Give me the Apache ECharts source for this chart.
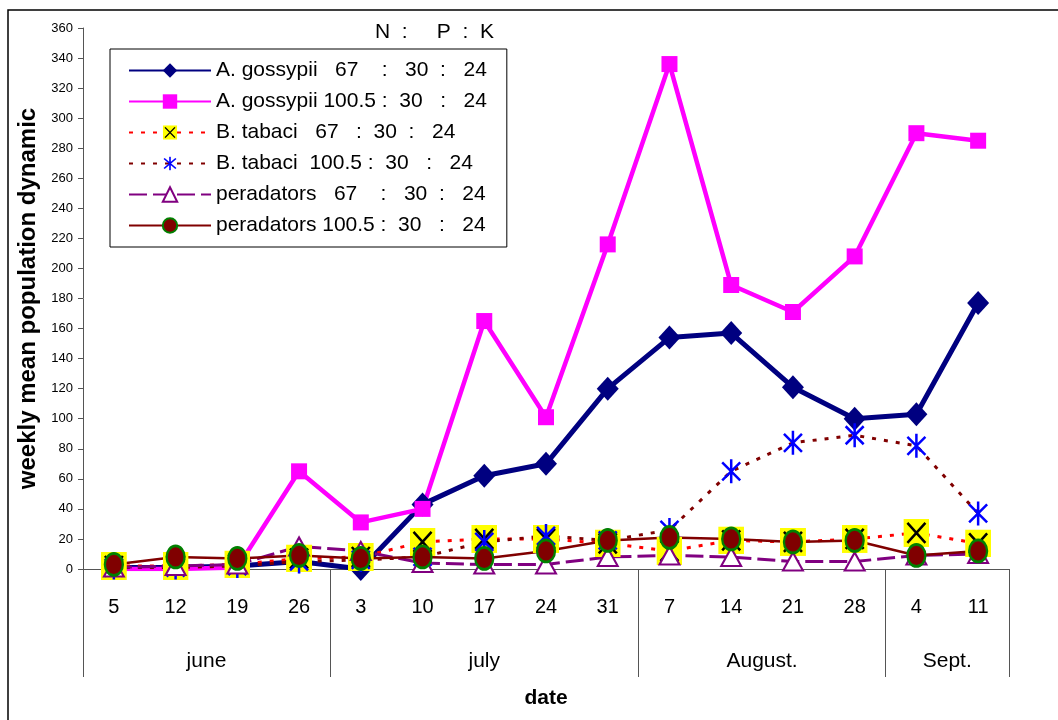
<!DOCTYPE html>
<html>
<head>
<meta charset="utf-8">
<script src="https://cdn.jsdelivr.net/npm/echarts@6/dist/echarts.min.js"></script>
<style>
  html, body { margin: 0; padding: 0; background: #fff; }
  #chart { width: 1058px; height: 720px; }
</style>
</head>
<body>
<div id="chart"></div>
<script>
// 横轴：周次（日期）与月份分组
const days = ['5', '12', '19', '26', '3', '10', '17', '24', '31', '7', '14', '21', '28', '4', '11']
const months = ['june', 'july', 'August.', 'Sept.']
const monthSpans = [4, 5, 4, 2] // 每个月包含的周数

// 纵轴刻度
const yMin = 0
const yMax = 360
const yStep = 20

// 各系列数值（每周平均种群数量）
const aGossypii67 = [1, 1, 2, 5, 0, 43, 62, 70, 120, 154, 157, 121, 100, 103, 177]
const aGossypii100 = [0, 0, 1, 65, 31, 40, 165, 101, 216, 336, 189, 171, 208, 290, 285]
const bTabaci67 = [2, 2, 3, 7, 8, 18, 20, 20, 17, 12, 19, 18, 20, 24, 17]
const bTabaci100 = [1, 1, 2, 5, 6, 8, 18, 22, 19, 26, 65, 84, 89, 82, 37]
const peradators67 = [1, 2, 3, 15, 12, 4, 3, 3, 8, 9, 8, 5, 5, 9, 10]
const peradators100 = [3, 8, 7, 9, 7, 8, 7, 12, 19, 21, 20, 18, 19, 9, 12]

// 图例名称（N : P : K）
const names = [
  'A. gossypii   67    :   30  :   24',
  'A. gossypii 100.5 :  30   :   24',
  'B. tabaci   67   :  30  :   24',
  'B. tabaci  100.5 :  30   :   24',
  'peradators   67    :   30  :   24',
  'peradators 100.5 :  30   :   24',
]

// 月份分隔线位置和标签中心
const monthBounds = [0]
const monthCenters = []
monthSpans.forEach((n) => {
  const start = monthBounds[monthBounds.length - 1]
  monthCenters.push(start + n / 2)
  monthBounds.push(start + n)
})

// 自定义标记：黄底黑叉、蓝色星号
const svg = (s) => 'image://data:image/svg+xml;charset=utf-8,' + encodeURIComponent(s)
const crossSymbol = svg(
  "<svg xmlns='http://www.w3.org/2000/svg' width='26' height='28' viewBox='0 0 26 28'>" +
    "<rect width='26' height='28' fill='#ffff00'/>" +
    "<path d='M4 4L22 24M22 4L4 24' stroke='#000' stroke-width='2.5' fill='none'/></svg>"
)
const starSymbol = svg(
  "<svg xmlns='http://www.w3.org/2000/svg' width='22' height='26' viewBox='0 0 22 26'>" +
    "<path d='M11 1V25M2 4L20 22M20 4L2 22' stroke='#0000ff' stroke-width='2.5' fill='none'/></svg>"
)

const FONT = 'Liberation Sans, Arial, sans-serif'
const AXIS_COLOR = '#555'

const chart = echarts.init(document.getElementById('chart'))

chart.setOption({
  backgroundColor: '#fff',
  animation: false,
  title: {
    text: 'N  :     P  :  K',
    left: 370,
    top: 17,
    textStyle: { fontFamily: FONT, fontSize: 21, fontWeight: 'normal', color: '#000' },
  },
  graphic: [
    {
      // 外框（只露出左边和上边）
      type: 'rect',
      shape: { x: 8, y: 10, width: 1080, height: 740 },
      style: { fill: 'none', stroke: '#000', lineWidth: 1.5 },
      silent: true,
    },
  ],
  legend: {
    orient: 'vertical',
    left: 110,
    top: 49,
    padding: [11, 20, 11, 18],
    itemWidth: 82,
    itemHeight: 18,
    itemGap: 10,
    borderColor: '#000',
    borderWidth: 1,
    backgroundColor: '#fff',
    textStyle: { fontFamily: FONT, fontSize: 21, color: '#000', lineHeight: 21 },
    data: names,
  },
  grid: { left: 83, right: 49, top: 28, bottom: 151 },
  xAxis: [
    {
      type: 'category',
      data: days,
      boundaryGap: true,
      axisLine: { lineStyle: { color: AXIS_COLOR, width: 1 } },
      axisTick: { length: 54, lineStyle: { color: AXIS_COLOR } },
      axisLabel: { margin: 28, fontFamily: FONT, fontSize: 20, color: '#000', interval: 0 },
      splitLine: { show: false },
    },
    {
      type: 'value',
      min: 0,
      max: days.length,
      position: 'bottom',
      axisLine: { show: false },
      axisTick: { customValues: monthBounds, length: 108, lineStyle: { color: AXIS_COLOR } },
      axisLabel: {
        customValues: monthCenters,
        margin: 82,
        fontFamily: FONT,
        fontSize: 21,
        color: '#000',
        formatter: (v) => months[monthCenters.indexOf(v)] || '',
      },
      splitLine: { show: false },
      name: 'date',
      nameLocation: 'middle',
      nameGap: 119,
      nameTextStyle: { fontFamily: FONT, fontSize: 21, fontWeight: 'bold', color: '#000' },
    },
  ],
  yAxis: {
    type: 'value',
    min: yMin,
    max: yMax,
    interval: yStep,
    axisLine: { show: true, lineStyle: { color: AXIS_COLOR, width: 1 } },
    axisTick: { show: true, length: 5, lineStyle: { color: AXIS_COLOR } },
    axisLabel: { margin: 10, fontFamily: FONT, fontSize: 13, color: '#000' },
    splitLine: { show: false },
    name: 'weekly mean population dynamic',
    nameLocation: 'middle',
    nameGap: 40,
    nameTextStyle: { fontFamily: FONT, fontSize: 24, fontWeight: 'bold', color: '#000' },
  },
  series: [
    {
      name: names[0],
      type: 'line',
      data: aGossypii67,
      symbol: 'diamond',
      symbolSize: [22, 24],
      lineStyle: { color: '#000080', width: 5 },
      itemStyle: { color: '#000080' },
    },
    {
      name: names[1],
      type: 'line',
      data: aGossypii100,
      symbol: 'rect',
      symbolSize: 16,
      lineStyle: { color: '#ff00ff', width: 4.5 },
      itemStyle: { color: '#ff00ff' },
    },
    {
      name: names[2],
      type: 'line',
      data: bTabaci67,
      symbol: crossSymbol,
      symbolSize: [26, 28],
      lineStyle: { color: '#ff0000', width: 3, type: [4, 8] },
      itemStyle: { color: '#ff0000' },
    },
    {
      name: names[3],
      type: 'line',
      data: bTabaci100,
      symbol: starSymbol,
      symbolSize: [22, 26],
      lineStyle: { color: '#800000', width: 3, type: [4, 8] },
      itemStyle: { color: '#800000' },
    },
    {
      name: names[4],
      type: 'line',
      data: peradators67,
      symbol: 'triangle',
      symbolSize: [20, 18],
      lineStyle: { color: '#800080', width: 3, type: [18, 6] },
      itemStyle: { color: '#fff', borderColor: '#800080', borderWidth: 2 },
    },
    {
      name: names[5],
      type: 'line',
      data: peradators100,
      symbol: 'circle',
      symbolSize: [18, 22],
      lineStyle: { color: '#800000', width: 2.5 },
      itemStyle: { color: '#800000', borderColor: '#008000', borderWidth: 2.5 },
    },
  ],
})
</script>
</body>
</html>
